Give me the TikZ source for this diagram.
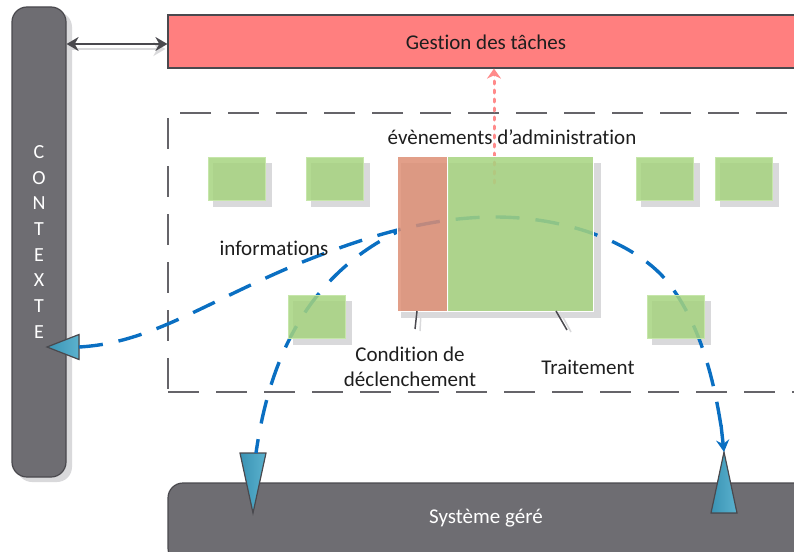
\documentclass[tikz,border=0pt]{standalone}
\usepackage{fontspec}
\setmainfont{Carlito}[Ligatures={NoCommon,NoRare,NoDiscretionary}]
\usetikzlibrary{arrows.meta,calc}
\definecolor{barg}{HTML}{6E6D72}
\definecolor{bard}{HTML}{4A494E}
\definecolor{pinkbox}{HTML}{FF7F7F}
\definecolor{pinkarr}{HTML}{FF8A8A}
\definecolor{greenb}{HTML}{A6D37F}
\definecolor{greenl}{HTML}{C6E6AA}
\definecolor{orangeb}{HTML}{DD8E74}
\definecolor{shad}{HTML}{D9D9DB}
\definecolor{flow}{HTML}{0A6FC2}
\definecolor{tria}{HTML}{3A93B4}
\definecolor{trib}{HTML}{5BB2CE}
\definecolor{txt}{HTML}{1E1E1E}
\begin{document}
\begin{tikzpicture}[x=1pt,y=-1pt,
  bar/.style={draw=bard, line width=1.2pt, fill=barg, rounded corners=15pt, inner sep=0pt},
  gbox/.style={fill=greenb, fill opacity=0.85, draw=greenl, line width=1pt, minimum width=57pt, minimum height=43pt, inner sep=0pt},
  lbl/.style={text=txt, font=\fontsize{21}{25}\selectfont, inner sep=0pt},
  wlbl/.style={text=white, font=\fontsize{21}{25}\selectfont, inner sep=0pt},
  flowline/.style={draw=flow, line width=3.4pt, dash pattern=on 24pt off 16pt},
  trishape/.style={draw=bard, line width=1.2pt, left color=tria, right color=trib},
]
\useasboundingbox (0,0) rectangle (794,551);
\clip (0,0) rectangle (794,551);

% ---------- Contexte bar ----------
\fill[shad, rounded corners=15pt] (17,12) rectangle (72,482);
\node[bar, minimum width=54pt, minimum height=470pt] (ctx) at (39,242) {};
\foreach \l [count=\i from 0] in {C,O,N,T,E,X,T,E}
  \node[wlbl, font=\fontsize{20}{24}\selectfont] (ctxl\i) at (39,{152+25.7*\i}) {\l};

% ---------- Gestion des taches ----------
\node[draw=bard, line width=1.2pt, fill=pinkbox, minimum width=636pt, minimum height=53pt, inner sep=0pt] (gest) at (486,41.5) {};
\node[lbl] (gestt) at (486,42) {Gestion des tâches};

% double arrow between contexte and gestion
\coordinate (dA) at (ctx.east |- 0,44);
\coordinate (dB) at (gest.west |- 0,44);
\draw[shad, line width=2.5pt, -{Stealth[length=12pt,width=14pt]}] ($(dA)+(4,5)$) -- ($(dB)+(-2,5)$);
\draw[bard, line width=1.8pt, {Stealth[length=12pt,width=14pt]}-{Stealth[length=12pt,width=14pt]}] (dA) -- (dB);

% ---------- Systeme gere ----------
\node[bar, minimum width=640pt, minimum height=80pt] (sys) at (488,523) {};
\node[wlbl] (syst) at (486,518) {Système géré};

% ---------- dashed zone ----------
\node[draw=bard!85, line width=1.5pt, dash pattern=on 31pt off 17pt, minimum width=650pt, minimum height=279pt, inner sep=0pt] (zone) at (493,252.5) {};

% ---------- shadows of boxes ----------
\foreach \x/\y in {208/157,306/157,636/157,715/157,288/295,647/295}
  \fill[shad] (\x+5,\y+6) rectangle (\x+64,\y+50);
\fill[shad] (401,163) rectangle (601,318);

% ---------- triangles (arrow heads) ----------
\coordinate (tipL) at (47,347);
\coordinate (tipD) at (253,513);
\coordinate (tipU) at (724,452);
\filldraw[trishape] (tipL) -- (79,334.5) -- (79,359.5) -- cycle;
\filldraw[trishape] (tipD) -- (240,453) -- (266,453) -- cycle;
\filldraw[trishape] (tipU) -- (711,513) -- (737,513) -- cycle;
\coordinate (baseL) at (79,347);
\coordinate (baseD) at (256,453);

% ---------- pink dotted arrow ----------
\draw[pinkarr, line width=3pt, line cap=round, dash pattern=on 3pt off 6pt, -{Stealth[length=10pt,width=14pt]}] (494,183) -- (gest.south -| 494,0);

% ---------- flows ----------
\draw[flowline] (baseL) .. controls (150,343) and (200,305) .. (300,263)
   .. controls (350,243) and (420,217) .. (495,217)
   .. controls (570,217) and (640,245) .. (670,285)
   .. controls (700,325) and (715,380) .. (723,440);
\draw[flow, line width=3.4pt, -{Stealth[length=12pt,width=13pt]}] (721,425) -- (tipU);
\draw[flowline, dash phase=10pt] (baseD) .. controls (268,370) and (300,280) .. (397,232);

% ---------- boxes ----------
\node[gbox, anchor=north west] (g1) at (208,157) {};
\node[gbox, anchor=north west] (g2) at (306,157) {};
\node[gbox, anchor=north west] (g3) at (636,157) {};
\node[gbox, anchor=north west] (g4) at (715,157) {};
\node[gbox, anchor=north west] (g5) at (288,295) {};
\node[gbox, anchor=north west] (g6) at (647,295) {};
\node[fill=orangeb, fill opacity=0.85, draw=white, line width=1pt, minimum width=51pt, minimum height=155pt, inner sep=0pt, anchor=north west] (cond) at (397,156) {};
\node[fill=greenb, fill opacity=0.85, draw=white, line width=1pt, minimum width=146pt, minimum height=155pt, inner sep=0pt, anchor=north west] (trait) at (447,156) {};

% ---------- labels ----------
\node[lbl] (evt) at (512,137) {évènements d’administration};
\node[lbl] (info) at (274,248) {informations};
\node[lbl, align=center] (condt) at (410,367) {Condition de\\déclenchement};
\node[lbl] (traitt) at (588,367) {Traitement};
\draw[shad, line width=1.5pt] (421,312) -- (420,331);
\draw[bard, line width=1.5pt] (417,311) -- (415,329);
\draw[shad, line width=1.5pt] (560,312) -- (571,332);
\draw[bard, line width=1.5pt] (556,311) -- (567,330);
\end{tikzpicture}
\end{document}
